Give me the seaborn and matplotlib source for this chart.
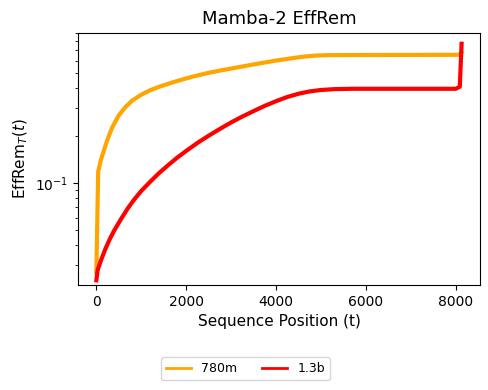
import numpy as np
import pandas as pd
import matplotlib
matplotlib.use('Agg')
import matplotlib.pyplot as plt
import seaborn as sns

# values
t_780m = [0, 40, 100, 170, 250, 350, 500, 650, 800, 1000, 1200, 1400, 1650, 1900,
          2200, 2500, 2800, 3100, 3400, 3700, 4000, 4300, 4600, 4900, 5200, 6000,
          8050, 8090, 8130]
eff_780m = [0.027, 0.118, 0.14, 0.162, 0.19, 0.225, 0.27, 0.305, 0.335, 0.365, 0.39,
            0.41, 0.433, 0.455, 0.48, 0.503, 0.523, 0.542, 0.562, 0.582, 0.602, 0.62,
            0.637, 0.648, 0.652, 0.653, 0.655, 0.66, 0.68]

t_13b = [0, 30, 100, 200, 300, 400, 550, 700, 850, 1000, 1200, 1400, 1600, 1800,
         2000, 2250, 2500, 2750, 3000, 3250, 3500, 3750, 4000, 4250, 4500, 4750,
         5000, 5300, 5700, 8000, 8090, 8130]
eff_13b = [0.024, 0.028, 0.032, 0.038, 0.044, 0.05, 0.059, 0.069, 0.079, 0.089, 0.102,
           0.116, 0.13, 0.145, 0.16, 0.18, 0.2, 0.221, 0.243, 0.265, 0.287, 0.31,
           0.332, 0.353, 0.37, 0.383, 0.391, 0.396, 0.398, 0.398, 0.41, 0.77]

models = ['780m', '1.3b']
colors = {'780m': 'orange', '1.3b': 'red'}

df = pd.concat([
    pd.DataFrame({'t': t_780m, 'effrem': eff_780m, 'model': '780m'}),
    pd.DataFrame({'t': t_13b, 'effrem': eff_13b, 'model': '1.3b'}),
])

fig = plt.figure(figsize=(4.89, 3.90), dpi=100)
ax = fig.add_axes([0.1595, 0.2692, 0.8221, 0.6470])

sns.lineplot(data=df, x='t', y='effrem', hue='model', hue_order=models,
             palette=colors, linewidth=3, errorbar=None, ax=ax)
ax.set_yscale('log')
ax.set_xlim(-409, 8540)
ax.set_ylim(0.0224, 0.906)
ax.set_xticks([0, 2000, 4000, 6000, 8000])

ax.set_title('Mamba-2 EffRem', fontsize=13)
ax.set_xlabel('Sequence Position (t)', fontsize=11)
ax.set_ylabel(r'EffRem$_T(t)$', fontsize=11)

handles, labels = ax.get_legend_handles_labels()
ax.get_legend().remove()
for h in handles:
    h.set_linewidth(2)
fig.legend(handles, labels, loc='center', bbox_to_anchor=(0.502, 0.055), ncol=2,
           fontsize=9, columnspacing=2.0)

fig.savefig('out.png', dpi=100)
